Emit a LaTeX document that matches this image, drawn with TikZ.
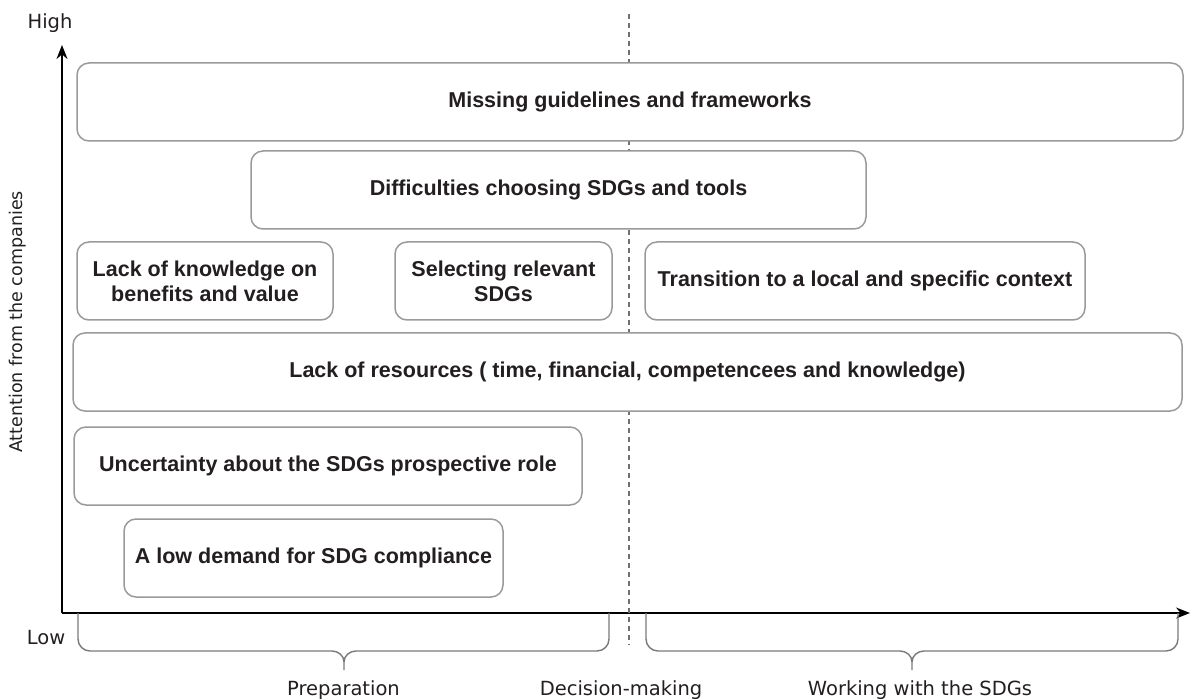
\documentclass[tikz,border=0pt]{standalone}
\usepackage{fontspec}
\setmainfont{Liberation Sans}
\newfontfamily\lblfont{DejaVu Sans}
\usetikzlibrary{arrows.meta}
\definecolor{boxgray}{HTML}{9A9A9A}
\definecolor{txtdark}{HTML}{231F20}
\definecolor{bracegray}{HTML}{7A7A7A}
\definecolor{dashgray}{HTML}{707070}
\begin{document}
\begin{tikzpicture}[x=1pt,y=1pt,
  barrier/.style={draw=boxgray, fill=white, line width=1.5pt, rounded corners=12pt, rectangle,
    inner sep=0pt, align=center, text=txtdark,
    font=\fontsize{21.5}{24.7}\selectfont\bfseries, minimum height=78pt},
  axisline/.style={line width=1.6pt, black, -{Stealth[length=14pt,width=11pt]}},
  bracepath/.style={draw=bracegray, line width=1.4pt},
  phaselabel/.style={font=\lblfont\fontsize{19.5}{22}\selectfont, text=txtdark, inner sep=0pt, anchor=base},
  divider/.style={draw=dashgray, line width=1.1pt, dash pattern=on 5pt off 4pt}
]
\useasboundingbox (0,0) rectangle (1191,-700);

% axes
\coordinate (orig) at (62,-613);
\coordinate (ytip) at (62,-45);
\coordinate (xtip) at (1190,-613);
\draw[axisline] (orig) -- (ytip);
\draw[axisline] (orig) -- (xtip);

% divider
\coordinate (dtop) at (629,-14);
\coordinate (dbot) at (629,-645);
\draw[divider] (dtop) -- (dbot);

% boxes
\node[barrier, minimum width=1106pt] (miss) at (630,-102) {Missing guidelines and frameworks};
\node[barrier, minimum width=615pt] (diff) at (558.5,-190) {Difficulties choosing SDGs and tools};
\node[barrier, minimum width=256pt] (lack) at (205,-281) {Lack of knowledge on\\benefits and value};
\node[barrier, minimum width=217pt] (sel) at (503.5,-281) {Selecting relevant\\SDGs};
\node[barrier, minimum width=440pt] (trans) at (865,-281) {Transition to a local and specific context};
\node[barrier, minimum width=1109pt] (res) at (627.5,-372) {Lack of resources ( time, financial, competencees and knowledge)};
\node[barrier, minimum width=508pt] (unc) at (328,-466) {Uncertainty about the SDGs prospective role};
\node[barrier, minimum width=379pt] (low) at (313.5,-558) {A low demand for SDG compliance};

% axis labels
\node[phaselabel] (high) at (50,-29) {High};
\node[phaselabel] (lowlbl) at (46,-644) {Low};
\node[phaselabel, rotate=90, font=\lblfont\fontsize{17.5}{20}\selectfont] (att) at (22,-322) {Attention from the companies};

% braces
\coordinate (b1l) at (78,-613);
\coordinate (b1r) at (609,-613);
\coordinate (b1m) at (344,-670);
\coordinate (b2l) at (646,-613);
\coordinate (b2r) at (1178,-613);
\coordinate (b2m) at (912,-670);
\draw[bracepath] (b1l) -- ++(0,-26) to[out=-90,in=180] ++(12,-12) -- (332,-651) to[out=0,in=90] (344,-662) -- (b1m);
\draw[bracepath] (b1r) -- ++(0,-26) to[out=-90,in=0] ++(-12,-12) -- (356,-651) to[out=180,in=90] (344,-662);
\draw[bracepath] (b2l) -- ++(0,-26) to[out=-90,in=180] ++(12,-12) -- (900,-651) to[out=0,in=90] (912,-662) -- (b2m);
\draw[bracepath] (b2r) -- ++(0,-26) to[out=-90,in=0] ++(-12,-12) -- (924,-651) to[out=180,in=90] (912,-662);

% phase labels
\node[phaselabel] (prep) at (343.5,-695) {Preparation};
\node[phaselabel] (dec) at (621,-695) {Decision-making};
\node[phaselabel] (work) at (920,-695) {Working with the SDGs};
\end{tikzpicture}
\end{document}
